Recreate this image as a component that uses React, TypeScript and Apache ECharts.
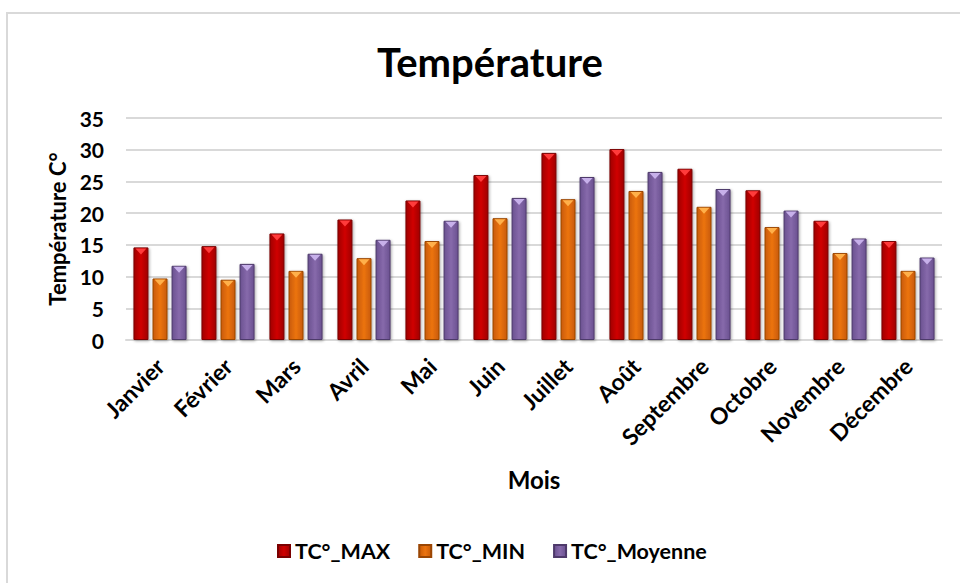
import React, { useEffect, useRef } from "react";
import * as echarts from "echarts";

const months = ["Janvier", "Février", "Mars", "Avril", "Mai", "Juin", "Juillet", "Août", "Septembre", "Octobre", "Novembre", "Décembre"];
const tMax = [14.6, 14.8, 16.8, 19.0, 22.0, 26.0, 29.5, 30.1, 27.0, 23.6, 18.8, 15.6];
const tMin = [9.7, 9.5, 10.9, 12.9, 15.6, 19.2, 22.2, 23.5, 21.0, 17.8, 13.7, 10.9];
const tMoy = [11.7, 12.0, 13.6, 15.8, 18.8, 22.4, 25.7, 26.5, 23.8, 20.4, 16.0, 13.0];
const seriesNames = ["TC°_MAX", "TC°_MIN", "TC°_Moyenne"];

const FONT = "Lato, 'Open Sans', sans-serif";

function barStyle(edge: string, mid: string, border: string) {
  return {
    color: new echarts.graphic.LinearGradient(0, 0, 1, 0, [
      { offset: 0, color: edge },
      { offset: 0.5, color: mid },
      { offset: 1, color: edge },
    ]),
    borderColor: border,
    borderWidth: 1,
    shadowBlur: 3,
    shadowOffsetX: 1,
    shadowOffsetY: 1,
    shadowColor: "rgba(0,0,0,0.35)",
  };
}

function makeSeries(name: string, values: number[], edge: string, mid: string, border: string, tip: string) {
  return {
    name,
    type: "bar",
    data: values,
    barWidth: 15,
    barGap: "27%",
    itemStyle: barStyle(edge, mid, border),
    markPoint: {
      symbol: "triangle",
      symbolRotate: 180,
      symbolSize: [11, 6],
      symbolOffset: [0, 4],
      label: { show: false },
      itemStyle: { color: tip },
      silent: true,
      data: values.map((v, i) => ({ coord: [i, v] })),
    },
  };
}

export default function App() {
  const ref = useRef<HTMLDivElement>(null);
  useEffect(() => {
    if (!ref.current) return;
    const chart = echarts.init(ref.current, null, { renderer: "svg" });
    chart.setOption({
      animation: false,
      backgroundColor: "#ffffff",
      title: {
        text: "Température",
        left: 485,
        textAlign: "center",
        top: 37,
        textStyle: { fontFamily: FONT, fontSize: 40, fontWeight: "bold", color: "#000" },
      },
      graphic: [
        {
          type: "rect",
          shape: { x: 7, y: 13, width: 1000, height: 1000 },
          style: { fill: "none", stroke: "#d9d9d9", lineWidth: 2 },
          silent: true,
        },
      ],
      legend: {
        data: seriesNames,
        top: 535,
        left: 272,
        itemWidth: 12,
        itemHeight: 12,
        itemGap: 28,
        icon: "rect",
        textStyle: { fontFamily: FONT, fontSize: 21.5, fontWeight: "bold", color: "#000" },
      },
      grid: { left: 126, right: 18, top: 118, bottom: 243 },
      xAxis: {
        type: "category",
        data: months,
        name: "Mois",
        nameLocation: "middle",
        nameGap: 127,
        nameTextStyle: { fontFamily: FONT, fontSize: 24, fontWeight: "bold", color: "#000" },
        axisTick: { show: false },
        axisLine: { lineStyle: { color: "#d9d9d9", width: 2 } },
        axisLabel: {
          interval: 0,
          rotate: 45,
          margin: 22,
          fontFamily: FONT,
          fontSize: 23,
          fontWeight: "bold",
          color: "#000",
        },
      },
      yAxis: {
        type: "value",
        min: 0,
        max: 35,
        interval: 5,
        name: "Température C°",
        nameLocation: "middle",
        nameGap: 57,
        nameTextStyle: { fontFamily: FONT, fontSize: 22, fontWeight: "bold", color: "#000" },
        axisLabel: { fontFamily: FONT, fontSize: 21, fontWeight: "bold", color: "#000", margin: 22 },
        splitLine: { lineStyle: { color: "#d9d9d9", width: 2 } },
      },
      series: [
        makeSeries(seriesNames[0], tMax, "#a00000", "#d00000", "#7a0000", "#ff3b3b"),
        makeSeries(seriesNames[1], tMin, "#c85a06", "#ec7410", "#9a4604", "#ffb04a"),
        makeSeries(seriesNames[2], tMoy, "#6a5190", "#876aab", "#4e3a6b", "#c7b0ea"),
      ],
      color: ["#c00000", "#e36c09", "#8064a2"],
    });
    return () => chart.dispose();
  }, []);
  return <div ref={ref} style={{ position: "absolute", left: 0, top: 0, width: 960, height: 583 }} />;
}
